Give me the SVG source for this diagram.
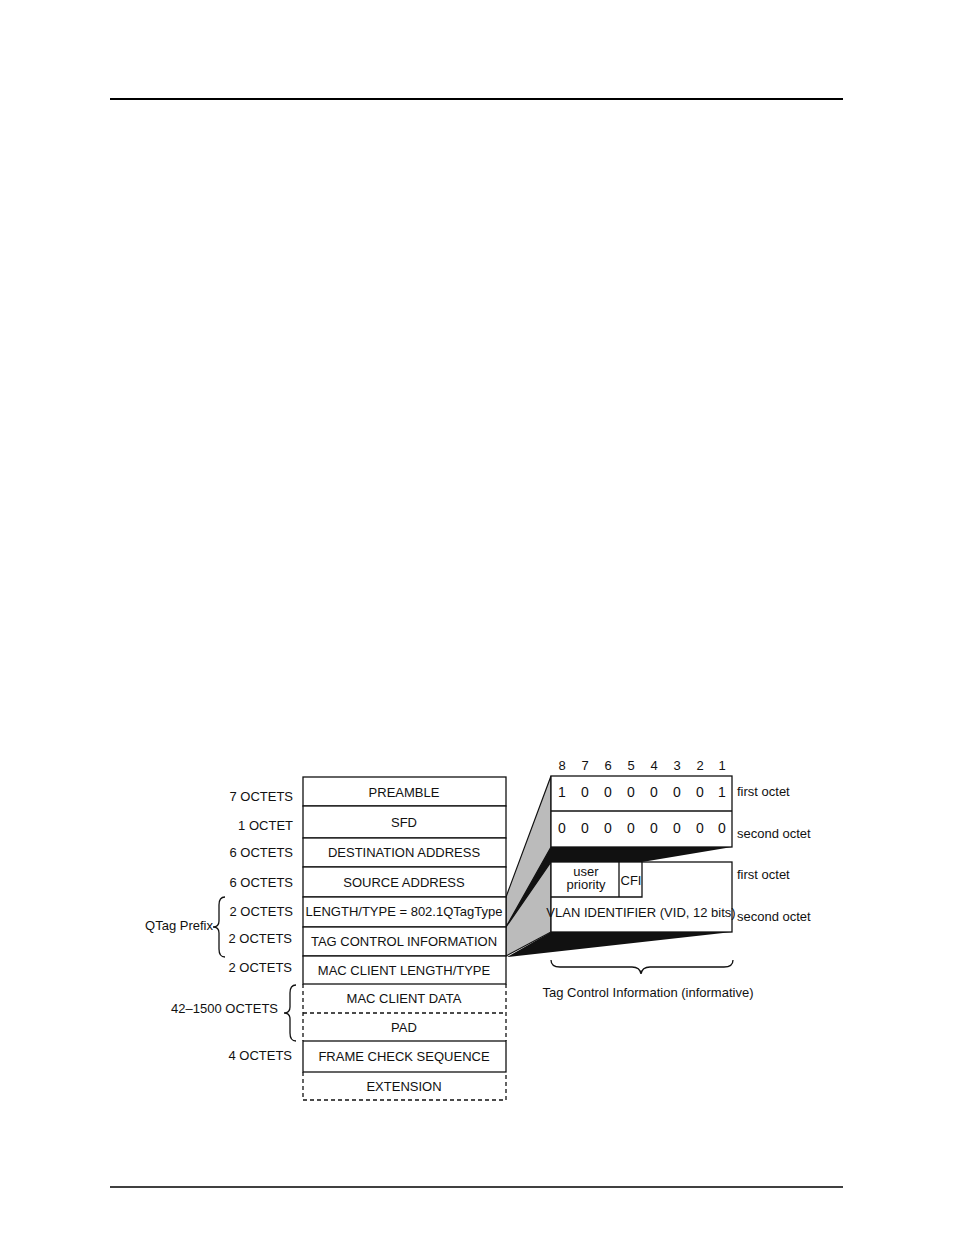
<svg xmlns="http://www.w3.org/2000/svg" width="954" height="1235" viewBox="0 0 954 1235">
<style>
text{font-family:"Liberation Sans",Arial,sans-serif;font-size:13px;fill:#111}
.c{text-anchor:middle}.r{text-anchor:end}
.b{fill:#fff;stroke:#111;stroke-width:1.3}
.d{fill:none;stroke:#111;stroke-width:1.3;stroke-dasharray:4,3}
.l{fill:none;stroke:#111;stroke-width:1.3}
.big{font-size:14px}
</style>
<rect width="954" height="1235" fill="#fff"/>
<line x1="110" y1="99" x2="843" y2="99" stroke="#000" stroke-width="2"/>
<line x1="110" y1="1187" x2="843" y2="1187" stroke="#000" stroke-width="1.5"/>
<g id="connectors">
<polygon points="506,897 551,776 551,847 506,927" fill="#bbb" stroke="#111" stroke-width="1.2"/>
<polygon points="506,927 551,847 732,847 642,862 551,862 506,930" fill="#111"/>
<polygon points="506,927 551,862 551,932 506,956" fill="#bbb" stroke="#111" stroke-width="1.2"/>
<polygon points="551,932 732,932 507,957" fill="#111"/>
<path class="l" d="M225,897 Q219,897 219,905 L219,921 Q219,927 213,927 Q219,927 219,933 L219,949 Q219,957 225,957"/>
<path class="l" d="M296,985 Q290,985 290,993 L290,1007 Q290,1013 284,1013 Q290,1013 290,1019 L290,1033 Q290,1041 296,1041"/>
<path class="l" d="M551,960 Q551,967 560,967 L632,967 Q640,967 641,974 Q642,967 650,967 L724,967 Q733,967 733,960"/>
</g>
<g id="frame">
<rect class="b" x="303" y="777" width="203" height="29"/><text class="c" x="404" y="797">PREAMBLE</text>
<rect class="b" x="303" y="806" width="203" height="32"/><text class="c" x="404" y="827">SFD</text>
<rect class="b" x="303" y="838" width="203" height="29"/><text class="c" x="404" y="857">DESTINATION ADDRESS</text>
<rect class="b" x="303" y="867" width="203" height="30"/><text class="c" x="404" y="887">SOURCE ADDRESS</text>
<rect class="b" x="303" y="897" width="203" height="30"/><text class="c" x="404" y="916">LENGTH/TYPE = 802.1QTagType</text>
<rect class="b" x="303" y="927" width="203" height="29"/><text class="c" x="404" y="946">TAG CONTROL INFORMATION</text>
<rect class="b" x="303" y="956" width="203" height="28"/><text class="c" x="404" y="975">MAC CLIENT LENGTH/TYPE</text>
<path class="d" d="M303,984 V1041 M506,984 V1041 M303,1013 H506"/><text class="c" x="404" y="1003">MAC CLIENT DATA</text>
<text class="c" x="404" y="1032">PAD</text>
<rect class="b" x="303" y="1041" width="203" height="31"/><text class="c" x="404" y="1061">FRAME CHECK SEQUENCE</text>
<path class="d" d="M303,1072 V1100 H506 V1072"/><text class="c" x="404" y="1091">EXTENSION</text>
</g>
<g id="labels">
<text class="r" x="293" y="801">7 OCTETS</text>
<text class="r" x="293" y="830">1 OCTET</text>
<text class="r" x="293" y="857">6 OCTETS</text>
<text class="r" x="293" y="887">6 OCTETS</text>
<text class="r" x="293" y="916">2 OCTETS</text>
<text class="r" x="292" y="943">2 OCTETS</text>
<text class="r" x="292" y="972">2 OCTETS</text>
<text class="r" x="213" y="930">QTag Prefix</text>
<text class="r" x="278" y="1013">42–1500 OCTETS</text>
<text class="r" x="292" y="1060">4 OCTETS</text>
</g>
<g id="tag-bits">
<rect class="b" x="551" y="776" width="181" height="71"/>
<line class="l" x1="551" y1="811" x2="732" y2="811"/>
<g class="c">
<text x="562" y="770">8</text><text x="585" y="770">7</text><text x="608" y="770">6</text><text x="631" y="770">5</text><text x="654" y="770">4</text><text x="677" y="770">3</text><text x="700" y="770">2</text><text x="722" y="770">1</text>
<text class="big" x="562" y="797">1</text><text class="big" x="585" y="797">0</text><text class="big" x="608" y="797">0</text><text class="big" x="631" y="797">0</text><text class="big" x="654" y="797">0</text><text class="big" x="677" y="797">0</text><text class="big" x="700" y="797">0</text><text class="big" x="722" y="797">1</text>
<text class="big" x="562" y="833">0</text><text class="big" x="585" y="833">0</text><text class="big" x="608" y="833">0</text><text class="big" x="631" y="833">0</text><text class="big" x="654" y="833">0</text><text class="big" x="677" y="833">0</text><text class="big" x="700" y="833">0</text><text class="big" x="722" y="833">0</text>
</g>
<text x="737" y="796" font-size="12">first octet</text>
<text x="737" y="838" font-size="12">second octet</text>
</g>
<g id="tag-fields">
<rect class="b" x="551" y="862" width="181" height="70"/>
<path class="l" d="M551,897 H642 V862 M619,862 V897"/>
<text class="c" x="586" y="876" font-size="12">user</text>
<text class="c" x="586" y="889" font-size="12">priority</text>
<text class="c" x="631" y="885" font-size="12">CFI</text>
<text class="c" x="641" y="917">VLAN IDENTIFIER (VID, 12 bits)</text>
<text x="737" y="879" font-size="12">first octet</text>
<text x="737" y="921" font-size="12">second octet</text>
<text class="c" x="648" y="997" font-size="12">Tag Control Information (informative)</text>
</g>
</svg>
